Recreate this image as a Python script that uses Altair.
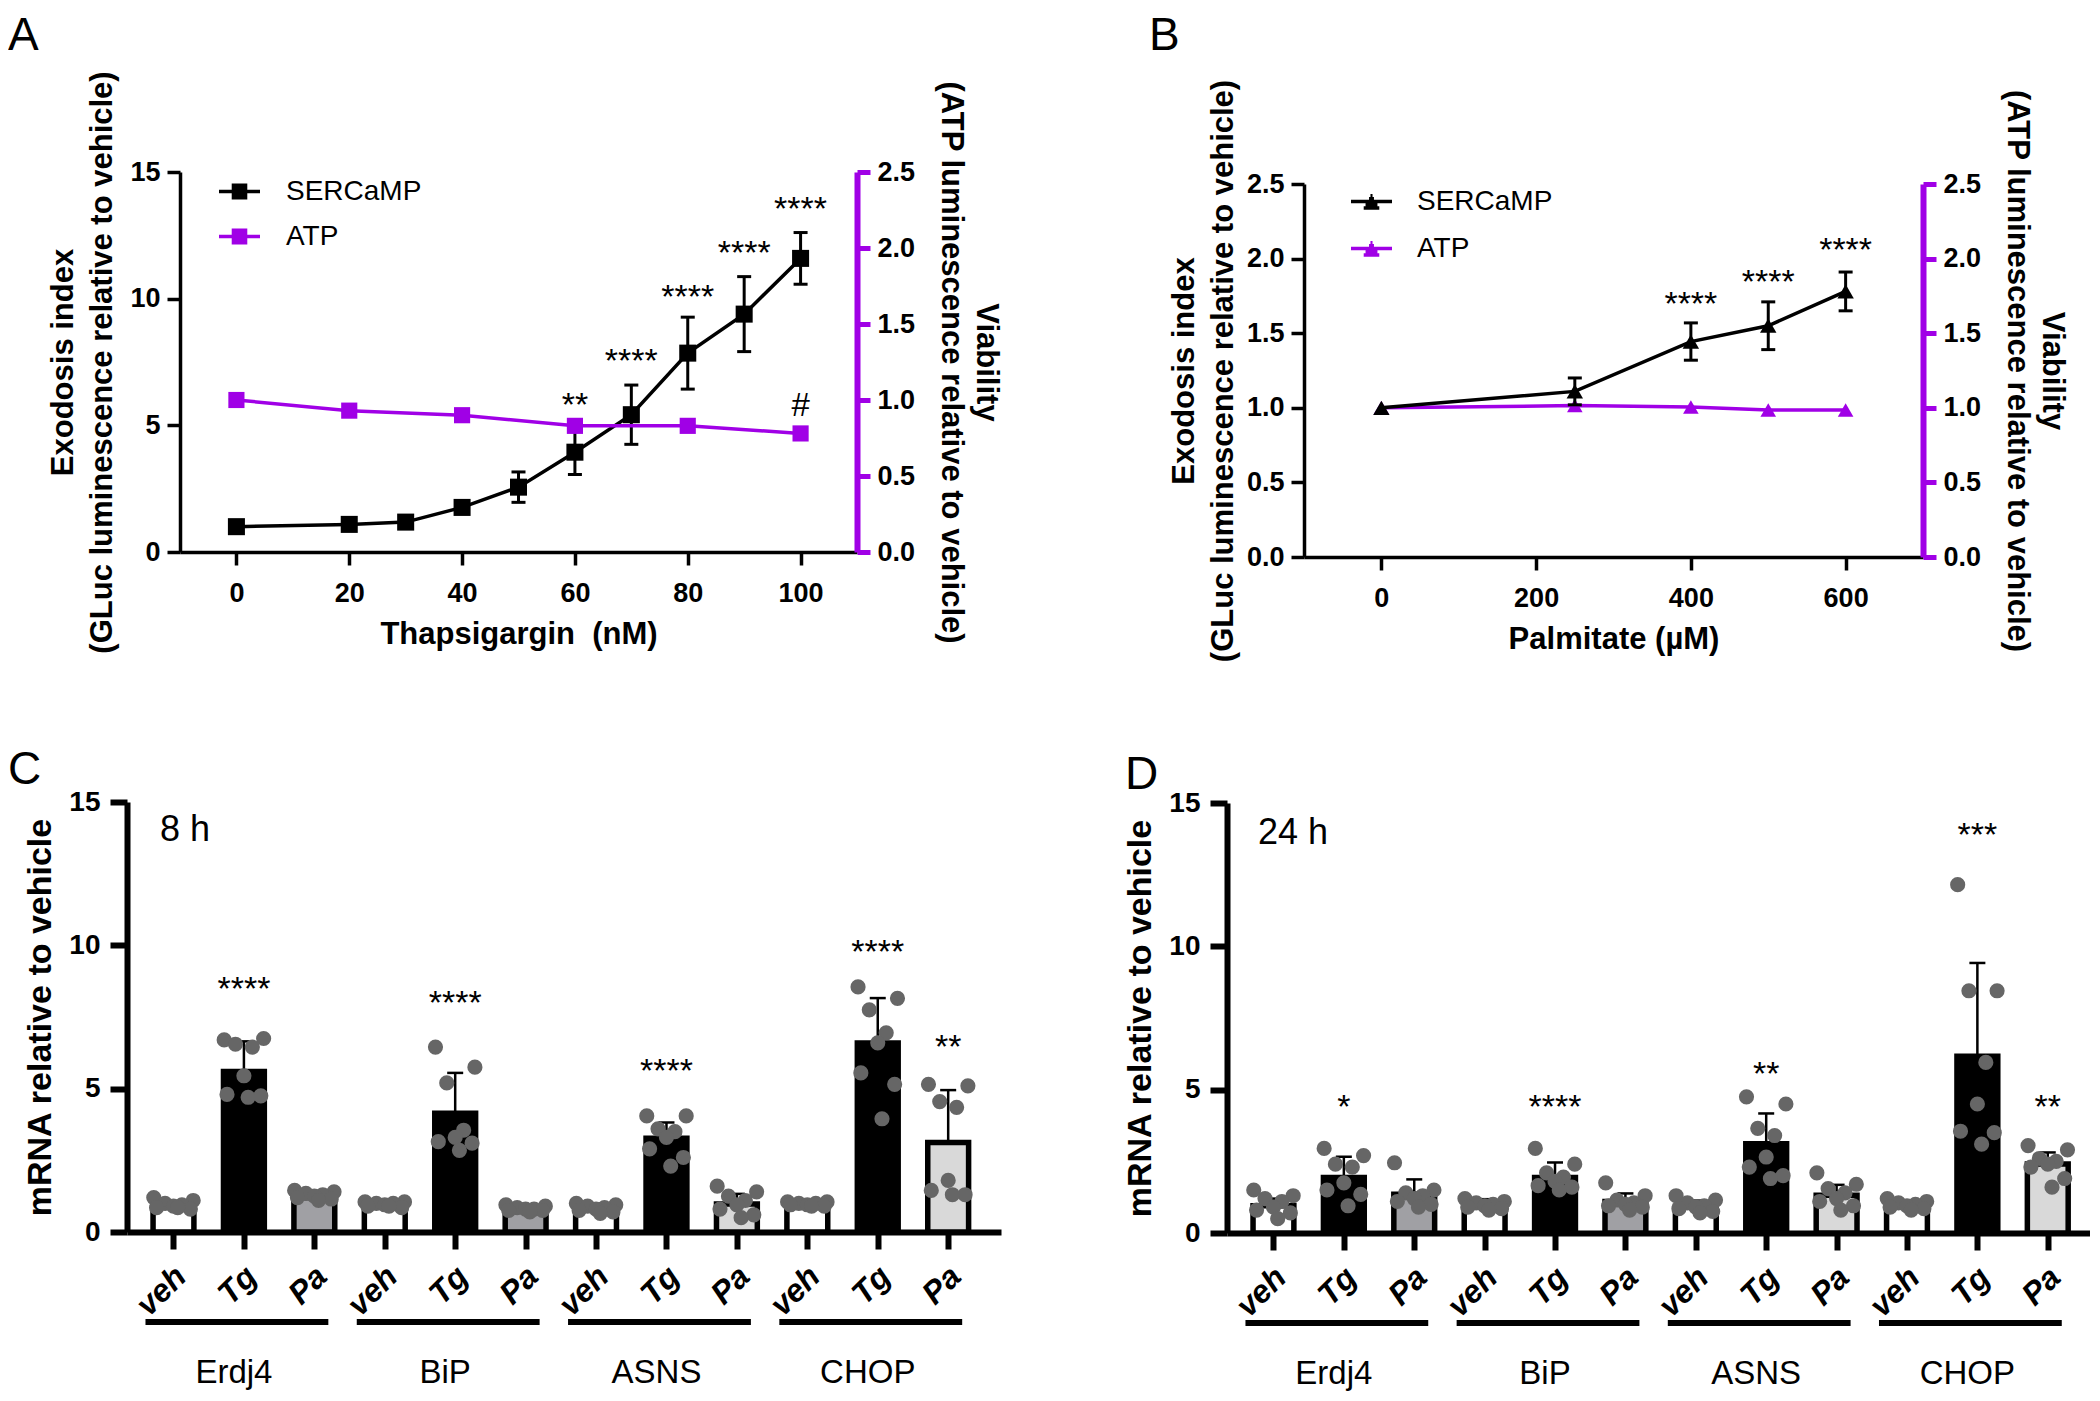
import altair as alt
import pandas as pd

FONT = "Liberation Sans"
PURPLE = "#A000E6"
BLACK = "#000000"
DOT = "#666666"

# ---------------- Panel A data ----------------
a_conc = [0, 20, 30, 40, 50, 60, 70, 80, 90, 100]
a_sercamp = [1.0, 1.09, 1.18, 1.76, 2.56, 3.94, 5.42, 7.85, 9.39, 11.59]
a_sercamp_err = [0.05, 0.08, 0.08, 0.12, 0.6, 0.88, 1.17, 1.42, 1.48, 1.02]
a_atp_conc = [0, 20, 40, 60, 80, 100]
a_atp = [1.0, 0.93, 0.90, 0.83, 0.83, 0.78]
a_star_conc = [60, 70, 80, 90, 100]
a_star_val = [6.1, 7.85, 10.4, 12.1, 13.85]
a_star_text = ["**", "****", "****", "****", "****"]
a_hash_conc = [100]
a_hash_val = [5.85]
a_hash_text = ["#"]
a_xticks = [0, 20, 40, 60, 80, 100]
a_yticks = [0, 5, 10, 15]

# ---------------- Panel B data ----------------
b_conc = [0, 250, 400, 500, 600]
b_sercamp = [1.0, 1.11, 1.444, 1.55, 1.78]
b_sercamp_err = [0.0, 0.09, 0.125, 0.16, 0.13]
b_atp = [1.0, 1.015, 1.006, 0.985, 0.985]
b_star_conc = [400, 500, 600]
b_star_val = [1.75, 1.90, 2.11]
b_star_text = ["****", "****", "****"]
b_xticks = [0, 200, 400, 600]
b_yticks = [0, 0.5, 1.0, 1.5, 2.0, 2.5]

viab_ticks = [0, 0.5, 1.0, 1.5, 2.0, 2.5]

# ---------------- Panels C / D data ----------------
genes = ["Erdj4", "BiP", "ASNS", "CHOP"]
treatments = ["veh", "Tg", "Pa"]

c_means = [0.95, 5.6, 1.2, 0.95, 4.14, 0.83, 0.85, 3.27, 0.98, 0.95, 6.59, 3.12]
c_errs = [0.12, 1.05, 0.12, 0.08, 1.41, 0.1, 0.15, 0.55, 0.35, 0.08, 1.57, 1.83]
c_points = [
    [1.2, 1.1, 1.0, 0.95, 0.9, 0.85, 0.8, 0.85],
    [6.7, 6.75, 6.55, 6.45, 5.45, 4.8, 4.75, 4.7],
    [1.45, 1.4, 1.35, 1.3, 1.25, 1.2, 1.15, 1.1],
    [1.05, 1.05, 1.0, 1.0, 0.95, 0.9, 0.85, 0.9],
    [6.45, 5.75, 5.2, 3.55, 3.3, 3.15, 3.1, 2.85],
    [0.95, 0.9, 0.85, 0.8, 0.8, 0.75, 0.75, 0.7],
    [1.0, 0.95, 0.9, 0.85, 0.8, 0.75, 0.7, 0.65],
    [4.05, 4.05, 3.6, 3.5, 3.3, 2.9, 2.6, 2.3],
    [1.6, 1.4, 1.25, 1.1, 0.95, 0.8, 0.6, 0.5],
    [1.05, 1.05, 1.0, 1.0, 0.95, 0.95, 0.9, 0.9],
    [8.55, 8.15, 7.75, 6.95, 6.6, 5.55, 5.15, 3.95],
    [5.15, 5.1, 4.55, 4.35, 1.8, 1.45, 1.3, 1.3],
]
c_star_idx = [1, 4, 7, 10, 11]
c_star_val = [8.77, 8.26, 5.89, 10.05, 6.75]
c_star_text = ["****", "****", "****", "****", "**"]

d_means = [0.95, 1.94, 1.35, 0.98, 1.94, 1.1, 0.93, 3.11, 1.32, 0.95, 6.17, 2.41]
d_errs = [0.25, 0.72, 0.52, 0.2, 0.52, 0.28, 0.2, 1.06, 0.36, 0.15, 3.25, 0.4]
d_points = [
    [1.5, 1.3, 1.2, 1.1, 0.9, 0.8, 0.7, 0.5],
    [2.95, 2.7, 2.4, 2.3, 1.75, 1.5, 1.35, 0.95],
    [2.45, 1.5, 1.4, 1.3, 1.2, 1.1, 1.0, 0.9],
    [1.2, 1.1, 1.05, 1.0, 0.95, 0.9, 0.85, 0.8],
    [2.95, 2.4, 2.1, 1.95, 1.8, 1.65, 1.6, 1.5],
    [1.75, 1.3, 1.15, 1.05, 1.0, 0.95, 0.9, 0.8],
    [1.3, 1.15, 1.05, 0.95, 0.9, 0.85, 0.75, 0.7],
    [4.75, 4.5, 3.65, 3.4, 2.65, 2.3, 2.0, 1.9],
    [2.1, 1.7, 1.55, 1.4, 1.2, 1.1, 0.95, 0.8],
    [1.2, 1.1, 1.05, 1.0, 0.95, 0.9, 0.85, 0.8],
    [12.15, 8.45, 8.45, 5.95, 4.5, 3.55, 3.5, 3.1],
    [3.05, 2.9, 2.6, 2.5, 2.4, 2.3, 1.9, 1.6],
]
d_star_idx = [1, 4, 7, 10, 11]
d_star_val = [4.66, 4.66, 5.83, 14.16, 4.66]
d_star_text = ["*", "****", "**", "***", "**"]

# ---------------- styles / layout (not data) ----------------
PA_FILL = ["#A0A0A4", "#A0A0A4", "#D9D9D9", "#D9D9D9"]
TREAT_FILL = {"veh": "#FFFFFF", "Tg": "#000000"}
JITTER = [-0.28, 0.28, -0.12, 0.12, 0.0, -0.24, 0.24, 0.06]

SQ_PATH = "M-1,0H1M-0.38,-0.3H0.38M-0.38,-0.15H0.38M-0.38,0.15H0.38M-0.38,0.3H0.38"
TRI_PATH = ("M-1,0H1M-0.38,0.32H0.38M-0.29,0.17H0.29M-0.2,0.02H0.2"
            "M-0.12,-0.13H0.12M-0.05,-0.28H0.05")

W, H = 2082, 1383
# plot rectangles in chart pixels: (left, top, right, bottom)
RECT = {"A": (172, 164, 849, 544), "B": (1296, 176, 1915, 549),
        "C": (119, 794, 993, 1224), "D": (1219, 795, 2082, 1225)}
LETTER_POS = {"A": (0, 6), "B": (1141, 6), "C": (0, 740), "D": (1117, 745)}


def letter_mark(key):
    df = pd.DataFrame({"t": [key]})
    lx, ly = LETTER_POS[key]
    return alt.Chart(df).mark_text(fontSize=46, font=FONT, align="left", baseline="top",
                                   color=BLACK).encode(
        x=alt.value(lx), y=alt.value(ly), text="t:N")


def line_panel(key, conc, s_mean, s_err, atp_conc, atp, star_c, star_v, star_t,
               hash_c, hash_v, hash_t, xdom, xticks, xtitle, ydom, yticks, yfmt,
               shape, msize, legend_off, legend_pad, legend_path, atp_on_top, ytitle_pad):
    l, t, r, b = RECT[key]
    s_df = pd.DataFrame({"conc": conc, "val": s_mean, "err": s_err})
    s_df["series"] = "SERCaMP"
    s_df["lo"] = s_df["val"] - s_df["err"]
    s_df["hi"] = s_df["val"] + s_df["err"]
    atp_df = pd.DataFrame({"conc": atp_conc, "val": atp})
    atp_df["series"] = "ATP"
    star_df = pd.DataFrame({"conc": star_c, "val": star_v, "txt": star_t})
    hash_df = pd.DataFrame({"conc": hash_c, "val": hash_v, "txt": hash_t})

    x_axis = alt.Axis(orient="bottom", offset=b - H, values=xticks, title=xtitle,
                      labelFontSize=27, titleFontSize=31, domainWidth=3.5, tickWidth=3.5,
                      tickSize=13, labelPadding=15, titlePadding=13)
    xs = alt.Scale(domain=xdom, range=[l, r], nice=False, zero=False)

    def X(f):
        return alt.X(f"{f}:Q", scale=xs, axis=x_axis)

    left_axis = alt.Axis(orient="left", offset=-l, values=yticks, format=yfmt,
                         title=["Exodosis index", "(GLuc luminescence relative to vehicle)"],
                         titleLineHeight=39, titlePadding=ytitle_pad, labelPadding=7,
                         tickSize=13, tickWidth=3.5, domainWidth=3.5, labelFontSize=27,
                         titleFontSize=31)
    ls = alt.Scale(domain=ydom, range=[b, t], nice=False)

    def YL(f):
        return alt.Y(f"{f}:Q", scale=ls, axis=left_axis)

    right_axis = alt.Axis(orient="right", offset=r - W, values=viab_ticks, format=".1f",
                          title=["Viability", "(ATP luminescence relative to vehicle)"],
                          titleLineHeight=35, titlePadding=20, labelPadding=7, tickSize=13,
                          tickWidth=5, domainWidth=6, domainColor=PURPLE, tickColor=PURPLE,
                          labelFontSize=27, titleFontSize=31)
    rs = alt.Scale(domain=[0, 2.5], range=[b, t], nice=False)

    def YR(f):
        return alt.Y(f"{f}:Q", scale=rs, axis=right_axis)

    legend = alt.Legend(title=None, orient="none", legendX=l + legend_off[0],
                        legendY=t + legend_off[1],
                        symbolType=legend_path, symbolSize=1681, symbolStrokeWidth=3.5,
                        labelFontSize=28, labelFont=FONT, labelColor=BLACK,
                        labelOffset=legend_pad[0], rowPadding=legend_pad[1], padding=0)
    color = alt.Color("series:N",
                      scale=alt.Scale(domain=["SERCaMP", "ATP"], range=[BLACK, PURPLE]),
                      legend=legend)

    s_line = alt.Chart(s_df).mark_line(strokeWidth=3.5).encode(x=X("conc"), y=YL("val"), color=color)
    s_rule = alt.Chart(s_df).mark_rule(strokeWidth=3, color=BLACK).encode(
        x=X("conc"), y=YL("lo"), y2=alt.Y2("hi:Q"))
    s_cap_lo = alt.Chart(s_df).transform_filter("datum.err > 0.02").mark_tick(
        orient="horizontal", size=14, thickness=3, color=BLACK, opacity=1).encode(
        x=X("conc"), y=YL("lo"))
    s_cap_hi = alt.Chart(s_df).transform_filter("datum.err > 0.02").mark_tick(
        orient="horizontal", size=14, thickness=3, color=BLACK, opacity=1).encode(
        x=X("conc"), y=YL("hi"))
    s_pts = alt.Chart(s_df).mark_point(shape=shape, filled=True, size=msize, opacity=1,
                                       color=BLACK).encode(x=X("conc"), y=YL("val"))
    stars = alt.Chart(star_df).mark_text(fontSize=34, font=FONT, baseline="alphabetic",
                                         dy=19, color=BLACK).encode(
        x=X("conc"), y=YL("val"), text="txt:N")
    layers = [s_line, s_rule, s_cap_lo, s_cap_hi, s_pts, stars]
    if len(hash_c):
        hashes = alt.Chart(hash_df).mark_text(fontSize=33, font=FONT, baseline="alphabetic",
                                              dy=12, color=BLACK).encode(
            x=X("conc"), y=YL("val"), text="txt:N")
        layers.append(hashes)
    left = alt.layer(*layers)

    a_line = alt.Chart(atp_df).mark_line(strokeWidth=3.5).encode(
        x=X("conc"), y=YR("val"), color=color)
    a_pts = alt.Chart(atp_df).mark_point(shape=shape, filled=True, size=msize * 0.9, opacity=1,
                                         color=PURPLE).encode(x=X("conc"), y=YR("val"))
    right = alt.layer(a_line, a_pts)

    ch = alt.layer(left, right) if atp_on_top else alt.layer(right, left)
    return ch.resolve_scale(y="independent")


def bar_panel(key, tlabel, means, errs, pts, star_idx, star_val, star_txt, xmax, tlabel_pos):
    l, t, r, b = RECT[key]
    rows = []
    for gi, g in enumerate(genes):
        for ti, tr in enumerate(treatments):
            i = gi * 3 + ti
            fill = TREAT_FILL.get(tr, PA_FILL[gi])
            rows.append(dict(idx=i, gene=g, treat=tr, mean=means[i], err=errs[i], fill=fill))
    bars = pd.DataFrame(rows)
    bars["x0"] = bars["idx"] - 0.29
    bars["x1"] = bars["idx"] + 0.29
    bars["hi"] = bars["mean"] + bars["err"]

    drows = []
    for i in range(len(pts)):
        for k, v in enumerate(pts[i]):
            drows.append(dict(px=i + JITTER[k % len(JITTER)], v=v))
    dots = pd.DataFrame(drows)

    star_df = pd.DataFrame({"idx": star_idx, "val": star_val, "txt": star_txt})
    gdf = pd.DataFrame({"gene": genes,
                        "first": [gi * 3 for gi in range(len(genes))],
                        "last": [gi * 3 + 2 for gi in range(len(genes))],
                        "mid": [gi * 3 + 1 for gi in range(len(genes))]})
    tdf = pd.DataFrame({"h": [tlabel]})

    expr = "[" + ",".join(f"'{x}'" for x in treatments) + f"][datum.value % {len(treatments)}]"
    x_axis = alt.Axis(orient="bottom", offset=b - H,
                      values=list(range(len(genes) * len(treatments))), labelExpr=expr,
                      title=None, labelAngle=-45, labelAlign="right", labelBaseline="middle",
                      labelFontStyle="italic", labelFontSize=32, labelPadding=22,
                      labelOffset=7, tickSize=17, tickWidth=6, domainWidth=6)
    xs = alt.Scale(domain=[-0.66, xmax], range=[l, r], nice=False, zero=False)

    def X(f):
        return alt.X(f"{f}:Q", scale=xs, axis=x_axis)

    y_axis = alt.Axis(orient="left", offset=-l, values=[0, 5, 10, 15],
                      title="mRNA relative to vehicle",
                      labelFontSize=28, titleFontSize=34, tickSize=17, tickWidth=6,
                      domainWidth=6, labelPadding=10, titlePadding=11)
    ys = alt.Scale(domain=[0, 15], range=[b, t], nice=False)

    def Y(f):
        return alt.Y(f"{f}:Q", scale=ys, axis=y_axis)

    bar = alt.Chart(bars).mark_bar(stroke=BLACK, strokeWidth=5.5).encode(
        x=X("x0"), x2=alt.X2("x1:Q"), y=Y("mean"), y2=alt.Y2(datum=0),
        fill=alt.Fill("fill:N", scale=None))
    err = alt.Chart(bars).mark_rule(strokeWidth=2.5, color=BLACK).encode(
        x=X("idx"), y=Y("mean"), y2=alt.Y2("hi:Q"))
    cap = alt.Chart(bars).mark_tick(orient="horizontal", size=16, thickness=2.5,
                                    color=BLACK, opacity=1).encode(x=X("idx"), y=Y("hi"))
    dot = alt.Chart(dots).mark_circle(size=230, color=DOT, opacity=1).encode(
        x=X("px"), y=Y("v"))
    stars = alt.Chart(star_df).mark_text(fontSize=34, font=FONT, baseline="alphabetic",
                                         dy=19, color=BLACK).encode(
        x=X("idx"), y=Y("val"), text="txt:N")
    under = alt.Chart(gdf).mark_rule(strokeWidth=6, color=BLACK, xOffset=-28,
                                     x2Offset=14).encode(
        x=X("first"), x2=alt.X2("last:Q"), y=alt.value(b + 90))
    glab = alt.Chart(gdf).mark_text(fontSize=33, font=FONT, baseline="middle", dx=-10,
                                    color=BLACK).encode(
        x=X("mid"), y=alt.value(b + 141), text="gene:N")
    tl = alt.Chart(tdf).mark_text(fontSize=36, font=FONT, align="left",
                                  baseline="middle", color=BLACK).encode(
        x=alt.value(l + tlabel_pos[0]), y=alt.value(t + tlabel_pos[1]), text="h:N")
    return alt.layer(bar, err, cap, dot, stars, under, glab, tl)


A = line_panel("A", a_conc, a_sercamp, a_sercamp_err, a_atp_conc, a_atp,
               a_star_conc, a_star_val, a_star_text, a_hash_conc, a_hash_val, a_hash_text,
               [-10, 110], a_xticks, "Thapsigargin\u00a0\u00a0(nM)", [0, 15], a_yticks, "d",
               "square", 290, (37, -3), (24, 8), SQ_PATH, True, 11)

B = line_panel("B", b_conc, b_sercamp, b_sercamp_err, b_conc, b_atp,
               b_star_conc, b_star_val, b_star_text, [], [], [],
               [-100, 700], b_xticks, "Palmitate (µM)", [0, 2.5], b_yticks, ".1f",
               "triangle-up", 270, (45, -5), (23, 10), TRI_PATH, False, 7)

C = bar_panel("C", "8 h", c_means, c_errs, c_points, c_star_idx, c_star_val, c_star_text,
              11.75, (33, 28))
D = bar_panel("D", "24 h", d_means, d_errs, d_points, d_star_idx, d_star_val, d_star_text,
              11.6, (31, 30))

chart = (
    alt.layer(A, B, C, D, letter_mark("A"), letter_mark("B"), letter_mark("C"),
              letter_mark("D"))
    .resolve_scale(x="independent", y="independent", color="independent",
                   fill="independent")
    .properties(width=W, height=H, padding=0, background="white",
                autosize=alt.AutoSizeParams(type="none"))
    .configure_view(stroke=None)
    .configure_axis(grid=False, labelFont=FONT, titleFont=FONT, labelColor=BLACK,
                    titleColor=BLACK, labelFontWeight="bold", titleFontWeight="bold",
                    domainColor=BLACK, tickColor=BLACK, labelFlush=False, labelOverlap=False,
                    domainCap="butt")
    .configure_text(font=FONT)
)

chart.save("out.html", embed_options={"renderer": "svg", "actions": False})
